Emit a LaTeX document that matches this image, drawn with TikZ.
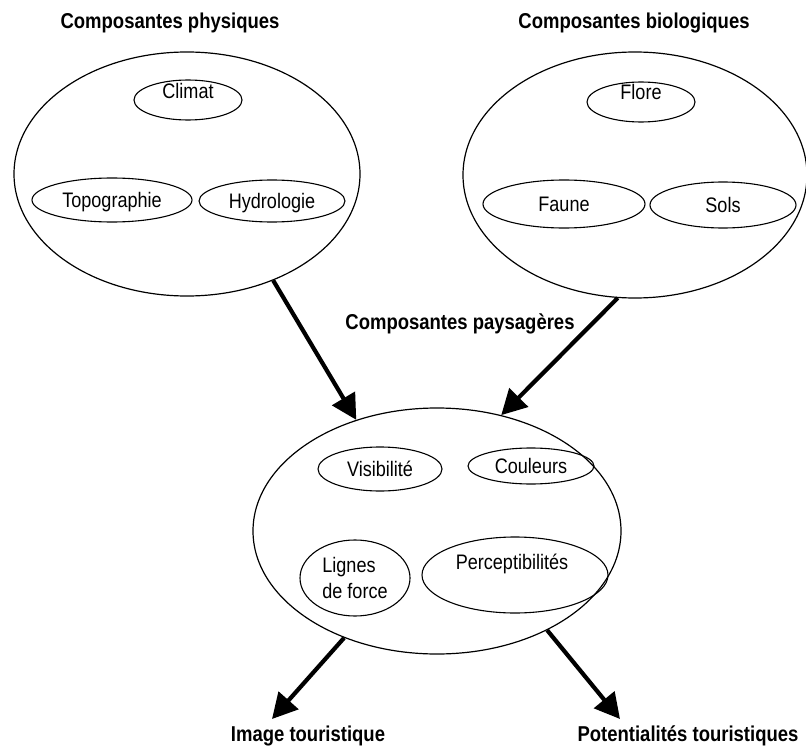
\documentclass[tikz,border=0pt]{standalone}
\usepackage{fontspec}
\setmainfont{Liberation Sans}[FakeStretch=0.86]
\usetikzlibrary{shapes.geometric,arrows.meta}
\begin{document}
\begin{tikzpicture}[x=1pt,y=-1pt,
  every node/.style={font=\fontsize{21pt}{26pt}\selectfont},
  big/.style={draw, ellipse, line width=1.2pt, inner sep=0pt},
  oval/.style={draw, ellipse, line width=1.1pt, inner sep=0pt},
  word/.style={oval, text height=15pt, text depth=0pt},
  title/.style={font=\bfseries\fontsize{21.5pt}{24pt}\selectfont, inner sep=0pt, text height=15.4pt, text depth=0pt},
  flow/.style={line width=4.2pt, -{Triangle[length=25pt,width=26pt]}}
]
\useasboundingbox (0,0) rectangle (806,749);

% titles
\node[title] (tphys) at (170,21) {Composantes physiques};
\node[title] (tbio) at (634,21) {Composantes biologiques};
\node[title] (tpays) at (460,322) {Composantes paysagères};
\node[title] (img) at (308,734) {Image touristique};
\node[title] (pot) at (688,734) {Potentialités touristiques};

% big ellipses
\node[big, minimum width=346pt, minimum height=244pt] (phys) at (187,174) {};
\node[big, minimum width=344pt, minimum height=246pt] (bio) at (635,175) {};
\node[big, minimum width=368pt, minimum height=246pt] (pays) at (437,531) {};

% physical components
\node[oval, minimum width=108pt, minimum height=40pt, label={[yshift=9pt]center:Climat}] (climat) at (188,100) {};
\node[word, minimum width=160pt, minimum height=44pt] (topo) at (112,200) {Topographie};
\node[word, minimum width=146pt, minimum height=42pt] (hydro) at (272,201) {Hydrologie};

% biological components
\node[oval, minimum width=108pt, minimum height=40pt, label={[yshift=10pt]center:Flore}] (flore) at (641,102) {};
\node[word, minimum width=162pt, minimum height=48pt] (faune) at (564,204) {Faune};
\node[word, minimum width=146pt, minimum height=46pt] (sols) at (723,205) {Sols};

% landscape components
\node[word, minimum width=124pt, minimum height=44pt] (visi) at (380,469) {Visibilité};
\node[word, minimum width=126pt, minimum height=36pt] (coul) at (531,466) {Couleurs};
\node[oval, minimum width=110pt, minimum height=76pt, align=left] (lignes) at (355,578) {Lignes\\de force};
\node[oval, minimum width=186pt, minimum height=76pt, label={[yshift=11pt,xshift=-3pt]center:Perceptibilités}] (perc) at (515,575) {};

% arrows
\coordinate (imgtip) at (272,719);
\coordinate (pottip) at (620,719);
\draw[flow] (phys.-51.5) -- (pays.126);
\draw[flow] (bio.-98.4) -- (pays.61.6);
\draw[flow] (pays.-131.6) -- (imgtip);
\draw[flow] (pays.-42) -- (pottip);
\end{tikzpicture}
\end{document}
